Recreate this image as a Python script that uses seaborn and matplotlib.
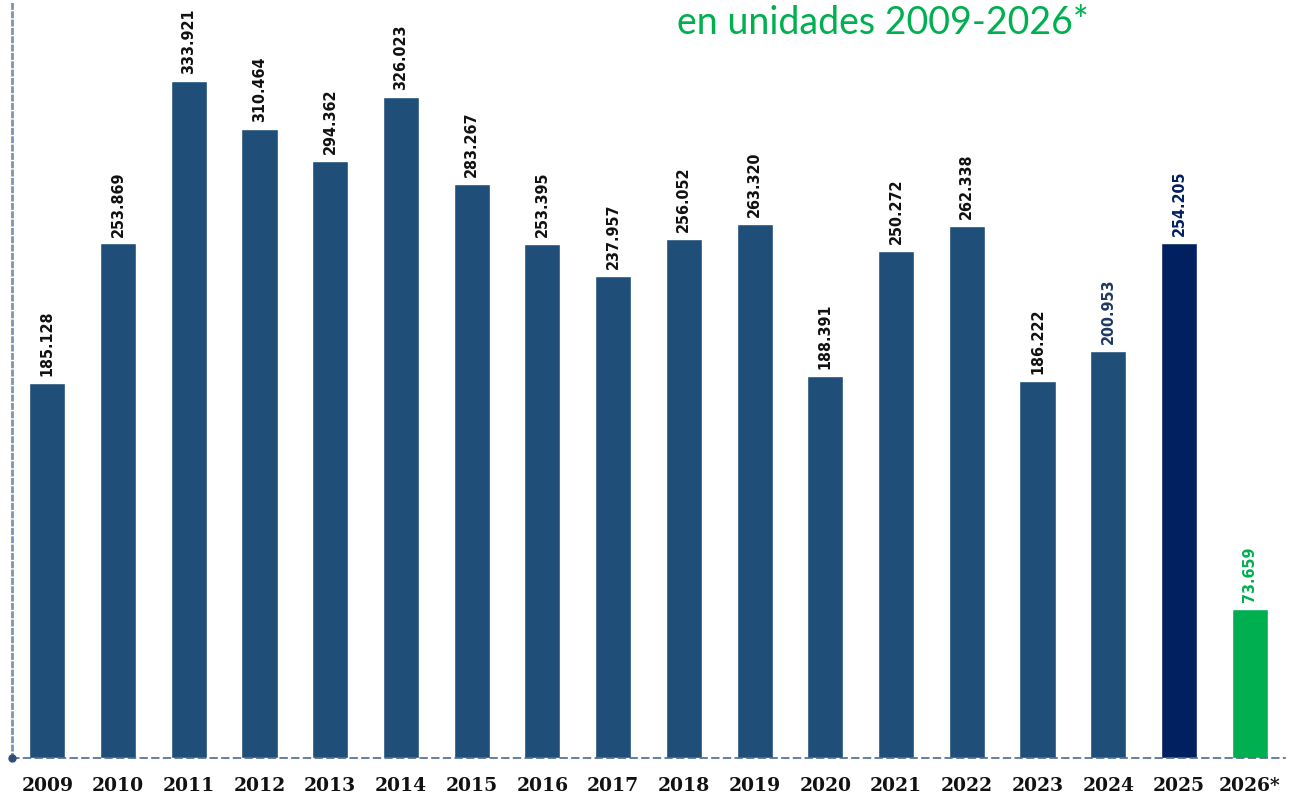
import matplotlib
matplotlib.use("Agg")
import matplotlib.pyplot as plt
import seaborn as sns
import pandas as pd

years = ["2009", "2010", "2011", "2012", "2013", "2014", "2015", "2016", "2017",
         "2018", "2019", "2020", "2021", "2022", "2023", "2024", "2025", "2026*"]
units = [185128, 253869, 333921, 310464, 294362, 326023, 283267, 253395, 237957,
         256052, 263320, 188391, 250272, 262338, 186222, 200953, 254205, 73659]
labels = ["185.128", "253.869", "333.921", "310.464", "294.362", "326.023", "283.267",
          "253.395", "237.957", "256.052", "263.320", "188.391", "250.272", "262.338",
          "186.222", "200.953", "254.205", "73.659"]
title_text = "en unidades 2009-2026*"

BASE = "#1F4E79"
DARK = "#002060"
GREEN = "#00B050"
bar_colors = [BASE] * 16 + [DARK, GREEN]
label_colors = ["#111111"] * 15 + ["#1F3864", DARK, GREEN]

sns.set_style("white")
df = pd.DataFrame({"year": years, "units": units})

fig = plt.figure(figsize=(12.95, 7.97), dpi=100)
ax = fig.add_axes([12 / 1295, 1 - 758 / 797, (1285 - 12) / 1295, 758 / 797])

sns.barplot(data=df, x="year", y="units", hue="year", palette=bar_colors,
            legend=False, width=0.51, ax=ax, saturation=1)

ax.set_xlim(-0.5, 17.5)
ax.set_ylim(0, 374000)

for i, (v, lab, c) in enumerate(zip(units, labels, label_colors)):
    ax.annotate(lab, (i, v), xytext=(0, 5), textcoords="offset points",
                rotation=90, ha="center", va="bottom", fontsize=11.5,
                fontweight="bold", color=c, fontstretch="condensed",
                family=["DejaVu Sans"])

for s in ["top", "right"]:
    ax.spines[s].set_visible(False)
ax.spines["left"].set_color("#7F93B0")
ax.spines["left"].set_linestyle((0, (1.5, 1.5)))
ax.spines["left"].set_linewidth(2)
ax.spines["bottom"].set_color("#4A6A90")
ax.spines["bottom"].set_linestyle((0, (4, 3)))
ax.spines["bottom"].set_linewidth(1.2)
ax.plot([-0.5], [0], marker="o", markersize=5, color="#2F4F7A", clip_on=False, zorder=5)

ax.set_yticks([])
ax.set_xlabel("")
ax.set_ylabel("")
ax.tick_params(axis="x", length=0, pad=14)
for t in ax.get_xticklabels():
    t.set_fontfamily(["DejaVu Serif"])
    t.set_fontweight("bold")
    t.set_fontsize(13.5)
    t.set_color("#111111")

fig.text(883 / 1295, 1 - 34 / 797, title_text, ha="center", va="baseline",
         fontsize=27, color=GREEN, family=["Lato", "DejaVu Sans"])

fig.savefig("out.png", dpi=100)
